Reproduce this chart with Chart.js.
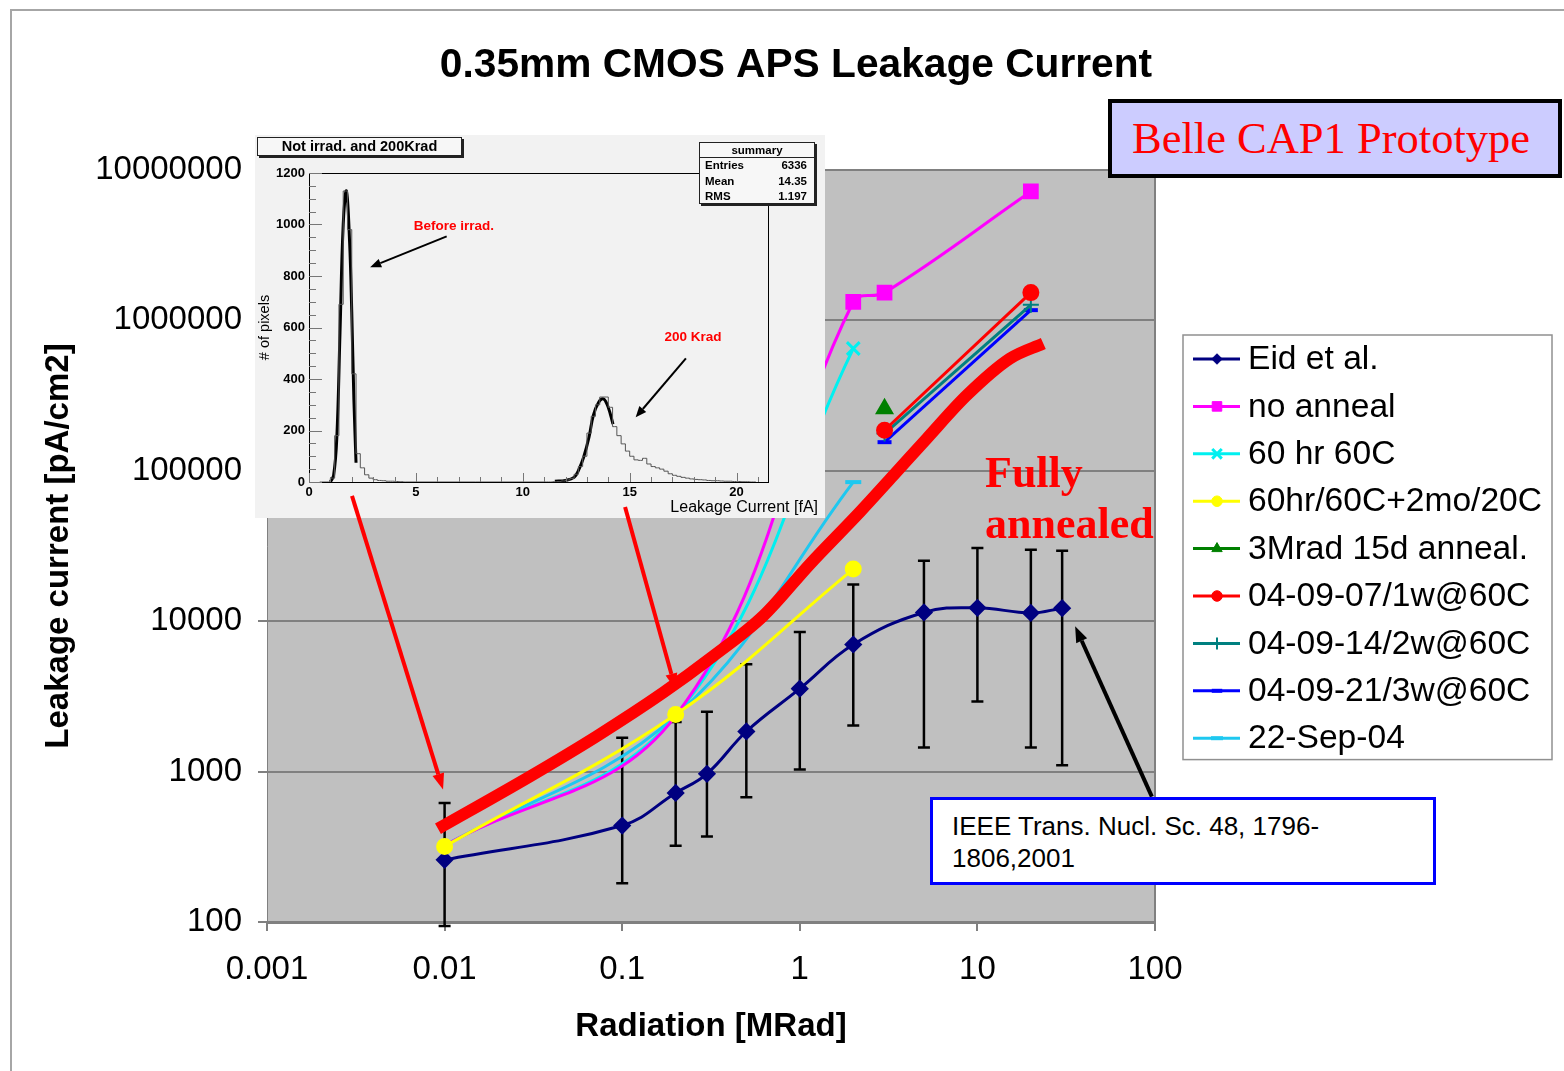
<!DOCTYPE html>
<html>
<head>
<meta charset="utf-8">
<title>0.35mm CMOS APS Leakage Current</title>
<script src="https://cdn.jsdelivr.net/npm/chart.js@4.4.1/dist/chart.umd.min.js"></script>
<style>
  html, body { margin: 0; padding: 0; background: #fff; }
  body { width: 1564px; height: 1071px; position: relative; overflow: hidden; font-family: 'Liberation Sans', Arial, sans-serif; }
  #frame { position: absolute; left: 10px; top: 9px; right: 0; bottom: 0; border-top: 2px solid #a6a6a6; border-left: 2px solid #a6a6a6; }
  #main { position: absolute; left: 0; top: 0; z-index: 1; }
  #inset { position: absolute; left: 255px; top: 135px; width: 570px; height: 383px; background: #f2f2f2; z-index: 2; }
  #hist { position: absolute; left: 0; top: 0; }
  #arrows { position: absolute; left: 0; top: 0; z-index: 3; pointer-events: none; }
  .rootbox { position: absolute; background: #f7f7f7; border: 1px solid #222; box-shadow: 2px 2px 0 #222; box-sizing: border-box; color: #000; }
  #histTitle { left: 2px; top: 2px; width: 205px; height: 19px; font: bold 14.5px 'Liberation Sans', Arial, sans-serif; text-align: center; line-height: 17px; }
  #stats { left: 444px; top: 7px; width: 116px; height: 62px; font: bold 11.5px 'Liberation Sans', Arial, sans-serif; }
  #stats .head { text-align: center; line-height: 14px; height: 14px; border-bottom: 1px solid #222; }
  #stats .row { display: flex; justify-content: space-between; padding: 0 7px 0 5px; line-height: 15.5px; }
  .note { position: absolute; z-index: 4; }
  #belle { left: 1108px; top: 99px; width: 454px; height: 79px; background: #ccccff; border: 4px solid #000; box-sizing: border-box;
           color: #ff0000; font: 44.5px 'Liberation Serif', 'Times New Roman', serif; padding-left: 20px; line-height: 71px; white-space: nowrap; }
  #fully { left: 985px; top: 447px; color: #ff0000; font: bold 44px 'Liberation Serif', 'Times New Roman', serif; line-height: 51px; }
  #ieee { left: 930px; top: 797px; width: 506px; height: 88px; border: 3px solid #0000ff; background: #fff; box-sizing: border-box;
          font: 26px 'Liberation Sans', Arial, sans-serif; line-height: 32px; padding: 10px 0 0 19px; white-space: nowrap; color: #000; }
</style>
</head>
<body>
<div id="frame"></div>
<canvas id="main" width="1564" height="1071"></canvas>
<div id="inset">
  <canvas id="hist" width="570" height="383"></canvas>
  <div class="rootbox" id="histTitle"></div>
  <div class="rootbox" id="stats"></div>
</div>
<canvas id="arrows" width="1564" height="1071"></canvas>
<div class="note" id="belle">Belle CAP1 Prototype</div>
<div class="note" id="fully">Fully<br>annealed</div>
<div class="note" id="ieee">IEEE Trans. Nucl. Sc. 48, 1796-<br>1806,2001</div>

<script>
const titleText = "0.35mm CMOS APS Leakage Current";

// axis ticks
const doseTicks = [0.001, 0.01, 0.1, 1, 10, 100];
const doseTickLabels = ["0.001", "0.01", "0.1", "1", "10", "100"];
const currentTicks = [100, 1000, 10000, 100000, 1000000, 10000000];
const currentTickLabels = ["100", "1000", "10000", "100000", "1000000", "10000000"];

// radiation [MRad] vs leakage current [pA/cm2]
const eidDose = [0.01, 0.1, 0.2, 0.3, 0.5, 1, 2, 5, 10, 20, 30];
const eidCurrent = [259, 438, 721, 966, 1848, 3560, 7000, 11430, 12270, 11350, 12210];
const eidErrHigh = [618, 1678, 2133, 2503, 5164, 8485, 17550, 25240, 30690, 29880, 29410];
const eidErrLow = [94, 181, 321, 370, 674, 1031, 2026, 1445, 2929, 1445, 1101];

const noAnnealDose = [0.01, 0.2, 2, 3, 20];
const noAnnealCurrent = [322, 2350, 1330000, 1530000, 7200000];

const hr60Dose = [0.01, 0.2, 2];
const hr60Current = [322, 2350, 650000];

const twoMonthDose = [0.01, 0.2, 2];
const twoMonthCurrent = [318, 2399, 22220];

const anneal15dDose = [3];
const anneal15dCurrent = [259000];

const week1Dose = [3, 20];
const week1Current = [186000, 1530000];
const week2Dose = [3, 20];
const week2Current = [177000, 1270000];
const week3Dose = [3, 20];
const week3Current = [155000, 1170000];

const sep22Dose = [0.01, 0.2, 2];
const sep22Current = [322, 2350, 84100];

// hand drawn "fully annealed" band
const fullDose = [0.00918, 0.0303, 0.0719, 0.170, 0.326, 0.623, 1.141, 2.183, 3.36, 5.18, 8.71, 15.26, 23.5];
const fullCurrent = [417, 930, 1719, 3347, 5871, 10847, 23990, 53300, 93050, 163500, 317700, 558000, 702500];

// arrows, in data coordinates of the main chart
const mainArrows = [
  { from: [0.00301, 68100], to: [0.0098, 759], color: "#ff0000", width: 4 },
  { from: [0.1038, 57500], to: [0.2, 3520], color: "#ff0000", width: 4 },
  { from: [96, 681], to: [35.5, 9265], color: "#000000", width: 4 },
];

// inset histogram: leakage current [fA] bin centres and # of pixels
const histCenters = [0.5, 0.7, 0.9, 1.1, 1.3, 1.5, 1.7, 1.9, 2.1, 2.3, 2.5, 2.7, 2.9, 3.1, 3.3, 3.5, 3.7, 3.9, 4.1, 4.3, 4.5,
  11.1, 11.3, 11.5, 11.7, 11.9, 12.1, 12.3, 12.5, 12.7, 12.9, 13.1, 13.3, 13.5, 13.7, 13.9, 14.1, 14.3, 14.5, 14.7, 14.9,
  15.1, 15.3, 15.5, 15.7, 15.9, 16.1, 16.3, 16.5, 16.7, 16.9, 17.1, 17.3, 17.5, 17.7, 17.9, 18.1, 18.3, 18.5, 18.7, 18.9,
  19.1, 19.3, 19.5, 19.7, 19.9, 20.1, 20.3, 20.5, 20.7, 20.9];
const histCounts = [0, 0, 0, 15, 180, 690, 1130, 980, 420, 110, 55, 28, 15, 9, 6, 5, 3, 3, 2, 1, 0,
  0, 0, 1, 2, 4, 8, 14, 30, 60, 100, 190, 255, 300, 330, 330, 290, 215, 180, 148, 120,
  100, 86, 84, 92, 70, 60, 55, 50, 42, 32, 26, 22, 18, 15, 12, 10, 9, 8, 6, 5,
  5, 4, 3, 3, 2, 2, 1, 1, 0, 0];
const fitLowX = [1.0, 1.15, 1.3, 1.45, 1.6, 1.75, 1.9, 2.0, 2.1, 2.2];
const fitLowY = [0, 25, 170, 580, 1000, 1130, 930, 660, 320, 75];
const fitHighX = [11.5, 12.0, 12.4, 12.6, 12.85, 13.1, 13.3, 13.55, 13.77, 13.95, 14.1, 14.22];
const fitHighY = [3, 6, 18, 44, 97, 175, 259, 310, 323, 300, 262, 225];
const histXTicks = [0, 5, 10, 15, 20];
const histYTicks = [0, 200, 400, 600, 800, 1000, 1200];
const histTitle = "Not irrad. and 200Krad";
const statLabels = ["Entries", "Mean", "RMS"];
const statValues = ["6336", "14.35", "1.197"];
const histNotes = [
  { text: "Before irrad.", x: 6.78, y: 995 },
  { text: "200 Krad", x: 17.96, y: 563 },
];
const histArrows = [
  { from: [6.44, 954], to: [2.86, 834] },
  { from: [17.63, 480], to: [15.28, 251] },
];

const FONT = "'Liberation Sans', Arial, sans-serif";
Chart.defaults.font.family = FONT;
Chart.defaults.color = "#000";

const pts = (xs, ys) => xs.map((x, i) => ({ x: x, y: ys[i] }));

function drawArrow(ctx, x0, y0, x1, y1, width, head, half, color) {
  const ang = Math.atan2(y1 - y0, x1 - x0);
  const bx = x1 - head * Math.cos(ang), by = y1 - head * Math.sin(ang);
  ctx.save();
  ctx.strokeStyle = color;
  ctx.fillStyle = color;
  ctx.lineWidth = width;
  ctx.beginPath();
  ctx.moveTo(x0, y0);
  ctx.lineTo(bx, by);
  ctx.stroke();
  ctx.beginPath();
  ctx.moveTo(x1, y1);
  ctx.lineTo(bx + half * Math.sin(ang), by - half * Math.cos(ang));
  ctx.lineTo(bx - half * Math.sin(ang), by + half * Math.cos(ang));
  ctx.closePath();
  ctx.fill();
  ctx.restore();
}

//grey plot area and its right edge
const plotBackground = {
  id: "plotBackground",
  beforeDraw(chart) {
    const { ctx, chartArea: a } = chart;
    ctx.save();
    ctx.fillStyle = "#c0c0c0";
    ctx.fillRect(a.left, a.top, a.width, a.height);
    ctx.strokeStyle = "#808080";
    ctx.lineWidth = 2;
    ctx.beginPath();
    ctx.moveTo(a.right, a.top);
    ctx.lineTo(a.right, a.bottom);
    ctx.stroke();
    ctx.restore();
  },
};

//vertical error bars of the Eid series
const errorBars = {
  id: "errorBars",
  beforeDatasetsDraw(chart) {
    const { ctx, scales: { x, y } } = chart;
    chart.data.datasets.forEach((ds) => {
      if (!ds.errHigh) return;
      ctx.save();
      ctx.strokeStyle = "#000";
      ctx.lineWidth = 2.5;
      ds.data.forEach((p, i) => {
        const px = x.getPixelForValue(p.x);
        const top = y.getPixelForValue(ds.errHigh[i]);
        const bot = y.getPixelForValue(ds.errLow[i]);
        ctx.beginPath();
        ctx.moveTo(px, top); ctx.lineTo(px, bot);
        ctx.moveTo(px - 6, top); ctx.lineTo(px + 6, top);
        ctx.moveTo(px - 6, bot); ctx.lineTo(px + 6, bot);
        ctx.stroke();
      });
      ctx.restore();
    });
  },
};

const mainTitle = {
  id: "mainTitle",
  afterDraw(chart) {
    const ctx = chart.ctx;
    ctx.save();
    ctx.font = "bold 40.7px " + FONT;
    ctx.fillStyle = "#000";
    ctx.textAlign = "center";
    ctx.textBaseline = "alphabetic";
    ctx.fillText(titleText, chart.width / 2 + 14, 77);
    ctx.restore();
  },
};

//legend box with line + marker samples
const sideLegend = {
  id: "sideLegend",
  afterDraw(chart) {
    const { ctx, chartArea } = chart;
    const items = chart.data.datasets.filter((d) => !d.noLegend);
    const left = chartArea.right + 28, top = chartArea.top + 165, w = 369, rowH = 47.4;
    const h = items.length * rowH - 2;
    ctx.save();
    ctx.fillStyle = "#fff";
    ctx.fillRect(left, top, w, h);
    ctx.strokeStyle = "#909090";
    ctx.lineWidth = 1.5;
    ctx.strokeRect(left, top, w, h);
    items.forEach((ds, i) => {
      const y = top + 24 + i * rowH;
      ctx.strokeStyle = ds.borderColor;
      ctx.lineWidth = 3;
      ctx.beginPath();
      ctx.moveTo(left + 10, y);
      ctx.lineTo(left + 57, y);
      ctx.stroke();
      const r = Array.isArray(ds.pointRadius) ? Math.max(...ds.pointRadius) : ds.pointRadius;
      ctx.fillStyle = ds.backgroundColor;
      ctx.strokeStyle = ds.backgroundColor;
      ctx.lineWidth = ds.pointBorderWidth || 1;
      Chart.helpers.drawPoint(ctx, { pointStyle: ds.pointStyle, radius: r * 0.75, rotation: 0, borderWidth: ds.pointBorderWidth || 1 }, left + 34, y);
      ctx.fillStyle = "#000";
      ctx.font = "33.6px " + FONT;
      ctx.textAlign = "left";
      ctx.textBaseline = "middle";
      ctx.fillText(ds.label, left + 65, y + 1);
    });
    ctx.restore();
  },
};

//arrows go on a layer above the inset
const arrowLayer = {
  id: "arrowLayer",
  afterDraw(chart) {
    const { x, y } = chart.scales;
    const c = document.getElementById("arrows").getContext("2d");
    c.clearRect(0, 0, c.canvas.width, c.canvas.height);
    mainArrows.forEach((a) => {
      drawArrow(c, x.getPixelForValue(a.from[0]), y.getPixelForValue(a.from[1]),
        x.getPixelForValue(a.to[0]), y.getPixelForValue(a.to[1]), a.width, 16, 6, a.color);
    });
  },
};

const mainChart = new Chart(document.getElementById("main"), {
  type: "line",
  data: {
    datasets: [
      { label: "Fully annealed", noLegend: true, data: pts(fullDose, fullCurrent), borderColor: "#ff0000", backgroundColor: "#ff0000",
        borderWidth: 12, pointRadius: 0, cubicInterpolationMode: "monotone", borderCapStyle: "butt", order: -2 },
      { label: "Eid et al.", data: pts(eidDose, eidCurrent), errHigh: eidErrHigh, errLow: eidErrLow,
        borderColor: "#000080", backgroundColor: "#000080", borderWidth: 3, pointStyle: "rectRot", pointRadius: 7, tension: 0.4 },
      { label: "no anneal", data: pts(noAnnealDose, noAnnealCurrent), borderColor: "#ff00ff", backgroundColor: "#ff00ff",
        borderWidth: 3, pointStyle: "rect", pointRadius: [0, 0, 9, 9, 9], tension: 0.4 },
      { label: "60 hr 60C", data: pts(hr60Dose, hr60Current), borderColor: "#00f0f0", backgroundColor: "#00f0f0",
        borderWidth: 3, pointStyle: "crossRot", pointRadius: [0, 0, 9], pointBorderWidth: 3, tension: 0.4 },
      { label: "60hr/60C+2mo/20C", data: pts(twoMonthDose, twoMonthCurrent), borderColor: "#ffff00", backgroundColor: "#ffff00",
        borderWidth: 3, pointStyle: "circle", pointRadius: 7, tension: 0.4, order: -1 },
      { label: "3Mrad 15d anneal.", data: pts(anneal15dDose, anneal15dCurrent), borderColor: "#008000", backgroundColor: "#008000",
        borderWidth: 3, pointStyle: "triangle", pointRadius: 8 },
      { label: "04-09-07/1w@60C", data: pts(week1Dose, week1Current), borderColor: "#ff0000", backgroundColor: "#ff0000",
        borderWidth: 3, pointStyle: "circle", pointRadius: 7 },
      { label: "04-09-14/2w@60C", data: pts(week2Dose, week2Current), borderColor: "#008080", backgroundColor: "#008080",
        borderWidth: 3, pointStyle: "cross", pointRadius: 8, pointBorderWidth: 2 },
      { label: "04-09-21/3w@60C", data: pts(week3Dose, week3Current), borderColor: "#0000ff", backgroundColor: "#0000ff",
        borderWidth: 3, pointStyle: "line", pointRadius: 7, pointBorderWidth: 4 },
      { label: "22-Sep-04", data: pts(sep22Dose, sep22Current), borderColor: "#1ec8f0", backgroundColor: "#1ec8f0",
        borderWidth: 3, pointStyle: "line", pointRadius: [0, 0, 8], pointBorderWidth: 4, tension: 0.4 },
    ],
  },
  options: {
    responsive: false,
    animation: false,
    devicePixelRatio: 1,
    layout: { padding: { top: 170, right: 409, bottom: 0, left: 0 } },
    plugins: { legend: { display: false }, tooltip: { enabled: false } },
    scales: {
      x: {
        type: "logarithmic", min: 0.001, max: 100,
        afterBuildTicks: (s) => { s.ticks = doseTicks.map((v) => ({ value: v })); },
        afterFit: (s) => { s.height = 149; },
        grid: { drawOnChartArea: false, drawTicks: true, tickLength: 9, color: "#808080", lineWidth: 2 },
        border: { color: "#808080", width: 3 },
        ticks: { color: "#000", font: { size: 33 }, padding: 19, maxRotation: 0, autoSkip: false,
          callback: (v, i) => doseTickLabels[i] },
        title: { display: true, text: "Radiation [MRad]", color: "#000", font: { size: 33, weight: "bold" }, padding: { top: 0, bottom: 24 } },
      },
      y: {
        type: "logarithmic", min: 100, max: 10000000,
        afterBuildTicks: (s) => { s.ticks = currentTicks.map((v) => ({ value: v })); },
        afterFit: (s) => { s.width = 267; },
        grid: { color: "#808080", lineWidth: 2, drawTicks: true, tickLength: 9 },
        border: { color: "#808080", width: 1 },
        ticks: { color: "#000", font: { size: 33 }, padding: 16, callback: (v, i) => currentTickLabels[i] },
        title: { display: true, text: "Leakage current [pA/cm2]", color: "#000", font: { size: 33, weight: "bold" }, padding: { top: 39, bottom: 0 } },
      },
    },
  },
  plugins: [plotBackground, errorBars, mainTitle, sideLegend, arrowLayer],
});

//ROOT style frame, inner ticks, notes and arrows of the inset
const histDecor = {
  id: "histDecor",
  afterDraw(chart) {
    const { ctx, chartArea: a, scales: { x, y } } = chart;
    ctx.save();
    ctx.strokeStyle = "#000";
    ctx.lineWidth = 1;
    ctx.beginPath();
    ctx.moveTo(a.left, a.top + 0.5); ctx.lineTo(a.right + 0.5, a.top + 0.5); ctx.lineTo(a.right + 0.5, a.bottom);
    ctx.stroke();
    ctx.strokeStyle = "#777";
    ctx.beginPath();
    for (let v = 0; v <= 1200; v += 50) {
      const py = Math.round(y.getPixelForValue(v)) + 0.5;
      const len = v % 200 === 0 ? 13 : 7;
      ctx.moveTo(a.left, py); ctx.lineTo(a.left + len, py);
    }
    for (let v = 0; v <= 21; v += 1) {
      const px = Math.round(x.getPixelForValue(v)) + 0.5;
      const len = v % 5 === 0 ? 9 : 5;
      ctx.moveTo(px, a.bottom); ctx.lineTo(px, a.bottom - len);
    }
    ctx.stroke();
    ctx.fillStyle = "#ff0000";
    ctx.font = "bold 13.5px " + FONT;
    ctx.textAlign = "center";
    ctx.textBaseline = "middle";
    histNotes.forEach((n) => ctx.fillText(n.text, x.getPixelForValue(n.x), y.getPixelForValue(n.y)));
    ctx.fillStyle = "#000";
    ctx.font = "16px " + FONT;
    ctx.textAlign = "right";
    ctx.fillText("Leakage Current [fA]", chart.width - 7, 373);
    ctx.restore();
    histArrows.forEach((r) => {
      drawArrow(ctx, x.getPixelForValue(r.from[0]), y.getPixelForValue(r.from[1]),
        x.getPixelForValue(r.to[0]), y.getPixelForValue(r.to[1]), 2, 11, 4.5, "#000");
    });
  },
};

const histChart = new Chart(document.getElementById("hist"), {
  type: "line",
  data: {
    datasets: [
      { data: pts(histCenters, histCounts), borderColor: "#555", borderWidth: 1, stepped: "middle", pointRadius: 0 },
      { data: pts(fitLowX, fitLowY), borderColor: "#000", borderWidth: 3, tension: 0.4, pointRadius: 0 },
      { data: pts(fitHighX, fitHighY), borderColor: "#000", borderWidth: 3, tension: 0.4, pointRadius: 0 },
    ],
  },
  options: {
    responsive: false,
    animation: false,
    devicePixelRatio: 1,
    layout: { padding: { top: 38, right: 57, left: 0, bottom: 0 } },
    plugins: { legend: { display: false }, tooltip: { enabled: false } },
    scales: {
      x: {
        type: "linear", min: 0, max: 21.47,
        afterBuildTicks: (s) => { s.ticks = histXTicks.map((v) => ({ value: v })); },
        afterFit: (s) => { s.height = 36; },
        grid: { display: false, drawTicks: false },
        border: { color: "#000", width: 1 },
        ticks: { color: "#000", font: { size: 13, weight: "bold" }, padding: 3, maxRotation: 0, autoSkip: false,
          callback: (v) => String(v) },
      },
      y: {
        type: "linear", min: 0, max: 1200,
        afterBuildTicks: (s) => { s.ticks = histYTicks.map((v) => ({ value: v })); },
        afterFit: (s) => { s.width = 54; },
        grid: { display: false, drawTicks: false },
        border: { color: "#000", width: 1 },
        ticks: { color: "#000", font: { size: 13, weight: "bold" }, padding: 4, callback: (v) => String(v) },
        title: { display: true, text: "# of pixels", color: "#000", font: { size: 14.5 }, padding: { top: 1, bottom: 0 } },
      },
    },
  },
  plugins: [histDecor],
});

document.getElementById("histTitle").textContent = histTitle;
const stats = document.getElementById("stats");
stats.innerHTML = '<div class="head">summary</div>' +
  statLabels.map((l, i) => '<div class="row"><span>' + l + "</span><span>" + statValues[i] + "</span></div>").join("");
</script>
</body>
</html>
